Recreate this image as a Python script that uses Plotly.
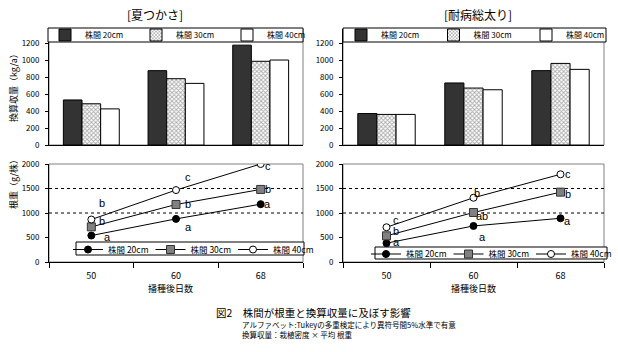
import plotly.graph_objects as go

# ---------------- data ----------------
categories = ["50", "60", "68"]
series_names = ["株間 20cm", "株間 30cm", "株間 40cm"]
panel_titles = ["[夏つかさ]", "[耐病総太り]"]

yield_natsu_20 = [530, 875, 1175]
yield_natsu_30 = [485, 780, 985]
yield_natsu_40 = [425, 725, 1000]
yield_taibyo_20 = [370, 730, 875]
yield_taibyo_30 = [360, 670, 960]
yield_taibyo_40 = [360, 650, 890]

root_natsu_20 = [540, 880, 1180]
root_natsu_30 = [717, 1174, 1481]
root_natsu_40 = [867, 1468, 2000]
root_taibyo_20 = [385, 736, 892]
root_taibyo_30 = [534, 1010, 1426]
root_taibyo_40 = [709, 1311, 1790]

# Tukey letters and their label positions (y in g/株)
letters_natsu_20 = ["a", "a", "a"]
letters_natsu_30 = ["b", "b", "b"]
letters_natsu_40 = ["b", "c", "c"]
letters_taibyo_20 = ["a", "a", "a"]
letters_taibyo_30 = ["b", "ab", "b"]
letters_taibyo_40 = ["c", "b", "c"]
lbl_y_natsu_20 = [512, 717, 1174]
lbl_y_natsu_30 = [840, 1174, 1481]
lbl_y_natsu_40 = [1195, 1727, 1959]
lbl_y_taibyo_20 = [405, 520, 845]
lbl_y_taibyo_30 = [642, 946, 1385]
lbl_y_taibyo_40 = [855, 1399, 1804]
lbl_dx_natsu = [[16, 12, 7], [11, 12, 7], [11, 12, 7]]
lbl_dx_taibyo = [[10, 9, 7], [9, 8, 7], [9, 3, 7]]

ref_lines = [1000, 1500]

yield_ticks = [0, 200, 400, 600, 800, 1000, 1200]
root_ticks = [0, 500, 1000, 1500, 2000]

# --------------- styles ---------------
FONT = "Noto Sans CJK JP"
W, H = 618, 352

def px(x):
    return x / W

def py(y):
    return 1 - y / H

bar_styles = [
    dict(color="#333333", line=dict(color="black", width=1)),
    dict(color="white", line=dict(color="black", width=1),
         pattern=dict(shape="x", fgcolor="#555555", bgcolor="white", size=3, solidity=0.5)),
    dict(color="white", line=dict(color="black", width=1)),
]
line_markers = [
    dict(symbol="circle", size=7, color="black", line=dict(color="black", width=1)),
    dict(symbol="square", size=8, color="#808080", line=dict(color="#333333", width=1)),
    dict(symbol="circle", size=7, color="white", line=dict(color="black", width=1)),
]

fig = go.Figure()

yield_sets = [
    [yield_natsu_20, yield_natsu_30, yield_natsu_40],
    [yield_taibyo_20, yield_taibyo_30, yield_taibyo_40],
]
root_sets = [
    [root_natsu_20, root_natsu_30, root_natsu_40],
    [root_taibyo_20, root_taibyo_30, root_taibyo_40],
]
letter_sets = [
    [letters_natsu_20, letters_natsu_30, letters_natsu_40],
    [letters_taibyo_20, letters_taibyo_30, letters_taibyo_40],
]
lbl_y_sets = [
    [lbl_y_natsu_20, lbl_y_natsu_30, lbl_y_natsu_40],
    [lbl_y_taibyo_20, lbl_y_taibyo_30, lbl_y_taibyo_40],
]
lbl_dx_sets = [lbl_dx_natsu, lbl_dx_taibyo]

top_axes = [("x", "y"), ("x2", "y2")]
bot_axes = [("x3", "y3"), ("x4", "y4")]
top_legends = ["legend", "legend2"]
bot_legends = ["legend3", "legend4"]

for p in range(2):
    xa, ya = top_axes[p]
    for s in range(3):
        fig.add_trace(go.Bar(
            x=categories, y=yield_sets[p][s], name=series_names[s],
            marker=bar_styles[s], xaxis=xa, yaxis=ya,
            legend=top_legends[p], showlegend=True,
        ))
    xa, ya = bot_axes[p]
    for s in range(3):
        fig.add_trace(go.Scatter(
            x=categories, y=root_sets[p][s], name=series_names[s],
            mode="lines+markers", line=dict(color="black", width=1),
            marker=line_markers[s], xaxis=xa, yaxis=ya,
            legend=bot_legends[p], showlegend=True,
        ))
        for i in range(len(categories)):
            fig.add_annotation(
                x=i, y=lbl_y_sets[p][s][i], xref=xa, yref=ya,
                text=letter_sets[p][s][i], showarrow=False,
                xshift=lbl_dx_sets[p][s][i], xanchor="center", yanchor="middle",
                font=dict(family="Liberation Sans", size=11, color="black"),
            )

x_dom = [[px(49), px(303)], [px(343), px(604)]]
top_dom = [py(145), py(29)]
bot_dom = [py(262), py(164)]

tick_font = dict(family=FONT, size=8, color="black")
layout = dict(
    width=W, height=H, margin=dict(l=0, r=0, t=0, b=0, autoexpand=False),
    paper_bgcolor="white", plot_bgcolor="white",
    barmode="group", bargap=0.34, bargroupgap=0,
    font=dict(family=FONT, size=8, color="black"),
)
names = ["", "2", "3", "4"]
for k in range(4):
    p = k % 2
    is_top = k < 2
    xa = "xaxis" + names[k]
    ya = "yaxis" + names[k]
    yref = "y" + names[k]
    xref = "x" + names[k]
    layout[xa] = dict(
        domain=x_dom[p], anchor=yref, type="category", range=[-0.5, 2.5],
        showline=True, linecolor="black", linewidth=1, showgrid=False,
        ticks="" if is_top else "outside", tickson="boundaries",
        ticklen=5, tickcolor="black", showticklabels=not is_top,
        ticklabelstandoff=5,
        tickfont=dict(family=FONT, size=9, color="black"),
        fixedrange=True,
    )
    layout[ya] = dict(
        domain=top_dom if is_top else bot_dom, anchor=xref,
        range=[0, 1365] if is_top else [0, 2000],
        tickvals=yield_ticks if is_top else root_ticks,
        showline=True, linecolor="black", linewidth=1, showgrid=False,
        zeroline=False, ticks="outside", ticklen=3, tickcolor="black",
        ticklabelstandoff=4,
        tickfont=tick_font, fixedrange=True,
    )

leg_common = dict(
    orientation="h", bgcolor="rgba(0,0,0,0)", borderwidth=0,
    xanchor="left", yanchor="top",
    entrywidthmode="pixels", itemclick=False, itemdoubleclick=False,
    tracegroupgap=0,
)
top_leg_font = dict(family=FONT, size=8, color="black")
bot_leg_font = dict(family=FONT, size=8.5, color="black")
layout["legend"] = dict(leg_common, x=px(45), y=py(20.5), entrywidth=46, font=top_leg_font)
layout["legend2"] = dict(leg_common, x=px(341), y=py(20.5), entrywidth=47.5, font=top_leg_font)
layout["legend3"] = dict(leg_common, x=px(68), y=py(235), entrywidth=37.5, font=bot_leg_font)
layout["legend4"] = dict(leg_common, x=px(366), y=py(239.5), entrywidth=37.5, font=bot_leg_font)

fig.update_layout(**layout)

shapes = []
for k in range(4):
    xr = "x" + names[k] + " domain"
    yr = "y" + names[k] + " domain"
    shapes.append(dict(type="rect", xref=xr, yref=yr, x0=0, x1=1, y0=0, y1=1,
                       line=dict(color="#808080", width=1), layer="below"))
for k in (2, 3):
    for v in ref_lines:
        shapes.append(dict(type="line", xref="x" + names[k] + " domain", yref="y" + names[k],
                           x0=0, x1=1, y0=v, y1=v,
                           line=dict(color="black", width=1, dash="3px,3px"), layer="below"))
# legend frames
legend_boxes = [(48, 28, 303, 42), (343, 28, 606, 42), (76, 242, 304, 255), (375, 247, 607, 259)]
for (x0, y0, x1, y1) in legend_boxes:
    shapes.append(dict(type="rect", xref="paper", yref="paper",
                       x0=px(x0), x1=px(x1), y0=py(y1), y1=py(y0),
                       line=dict(color="black", width=1), fillcolor="white", layer="above"))
fig.update_layout(shapes=shapes)

def label(x, y, text, size, angle=0, xanchor="center"):
    fig.add_annotation(x=px(x), y=py(y), xref="paper", yref="paper",
                       text=text, showarrow=False, textangle=angle,
                       xanchor=xanchor, yanchor="middle",
                       font=dict(family=FONT, size=size, color="black"))

title_x = [155, 478]
xtitle_x = [170, 473]
for p in range(2):
    label(title_x[p], 15, panel_titles[p], 12)
    label(xtitle_x[p], 288, "播種後日数", 9)

label(13, 86, "換算収量（kg/a）", 9, angle=-90)
label(13, 182, "根重（g/株）", 9, angle=-90)

label(214, 312.5, "図2　株間が根重と換算収量に及ぼす影響", 10.5, xanchor="left")
label(240, 324.5, "アルファベット:Tukeyの多重検定により異符号間5%水準で有意", 7.5, xanchor="left")
label(240, 334.5, "換算収量：栽植密度 × 平均 根重", 7.5, xanchor="left")

fig.write_html("out.html")
